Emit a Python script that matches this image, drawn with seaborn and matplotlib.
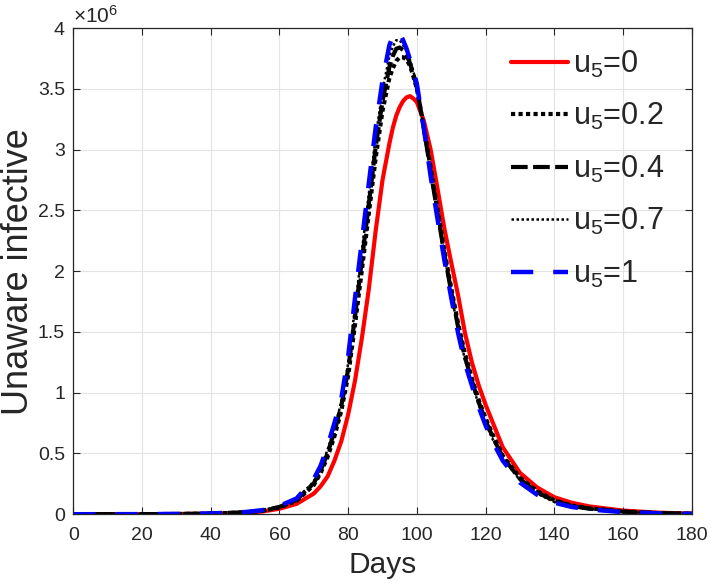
import pandas as pd
import seaborn as sns
import matplotlib.pyplot as plt

# valores (dias e infectados em milhões)
dias = [0, 10, 20, 30, 40, 50, 55, 60, 65, 70, 72, 74, 76, 78, 80, 82, 84, 86, 88, 90, 92, 93, 94, 95, 96,
        97, 98, 99, 100, 102, 104, 106, 108, 110, 112, 114, 116, 118, 120, 122, 125, 130, 135, 140, 145, 150,
        160, 170, 180]

u5_0 = [0, 0.0002, 0.0006, 0.0015, 0.004, 0.012, 0.022, 0.045, 0.085, 0.17, 0.23, 0.31, 0.44, 0.60, 0.82,
        1.10, 1.45, 1.85, 2.33, 2.75, 3.05, 3.18, 3.28, 3.35, 3.40, 3.43, 3.44, 3.42, 3.39, 3.24, 3.00, 2.68,
        2.35, 2.07, 1.80, 1.49, 1.25, 1.06, 0.90, 0.76, 0.55, 0.34, 0.22, 0.14, 0.095, 0.065, 0.03, 0.013, 0.005]
u5_02 = [0, 0.0003, 0.0007, 0.0018, 0.005, 0.015, 0.027, 0.056, 0.11, 0.24, 0.34, 0.47, 0.64, 0.85, 1.14,
         1.56, 2.01, 2.47, 2.93, 3.32, 3.59, 3.67, 3.73, 3.76, 3.76, 3.74, 3.69, 3.60, 3.50, 3.19, 2.85, 2.51,
         2.17, 1.86, 1.57, 1.32, 1.12, 0.94, 0.79, 0.66, 0.48, 0.30, 0.19, 0.115, 0.072, 0.049, 0.023, 0.01, 0.004]
u5_04 = [0, 0.0003, 0.0007, 0.0019, 0.0055, 0.016, 0.029, 0.060, 0.118, 0.255, 0.36, 0.50, 0.68, 0.89, 1.19,
         1.63, 2.09, 2.55, 3.02, 3.40, 3.68, 3.77, 3.83, 3.84, 3.82, 3.78, 3.71, 3.62, 3.51, 3.18, 2.82, 2.48,
         2.14, 1.83, 1.54, 1.29, 1.10, 0.92, 0.77, 0.64, 0.47, 0.29, 0.18, 0.11, 0.068, 0.046, 0.021, 0.009, 0.004]
u5_07 = [0, 0.0003, 0.0008, 0.002, 0.006, 0.017, 0.031, 0.064, 0.125, 0.27, 0.38, 0.53, 0.71, 0.92, 1.24,
         1.70, 2.17, 2.63, 3.10, 3.49, 3.77, 3.85, 3.90, 3.90, 3.86, 3.81, 3.74, 3.64, 3.53, 3.18, 2.80, 2.46,
         2.12, 1.81, 1.52, 1.27, 1.08, 0.90, 0.75, 0.62, 0.46, 0.28, 0.17, 0.10, 0.064, 0.043, 0.019, 0.008, 0.003]
u5_1 = [0, 0.0003, 0.0008, 0.002, 0.006, 0.018, 0.033, 0.068, 0.13, 0.29, 0.40, 0.56, 0.75, 0.95, 1.30,
        1.78, 2.25, 2.72, 3.18, 3.57, 3.86, 3.93, 3.97, 3.96, 3.90, 3.83, 3.74, 3.65, 3.54, 3.18, 2.78, 2.43,
        2.09, 1.78, 1.49, 1.24, 1.06, 0.88, 0.73, 0.60, 0.44, 0.26, 0.16, 0.095, 0.06, 0.04, 0.017, 0.007, 0.003]

rotulos = ["u$_5$=0", "u$_5$=0.2", "u$_5$=0.4", "u$_5$=0.7", "u$_5$=1"]

sns.set_theme(style="ticks")
plt.rcParams["font.family"] = ["Liberation Sans", "DejaVu Sans"]
plt.rcParams["mathtext.default"] = "regular"

cinza = "#262626"
fig = plt.figure(figsize=(7.11, 5.85), dpi=100)
ax = fig.add_axes([0.103, 0.121, 0.870, 0.831])

estilos = [
    dict(color="red", linewidth=3.0, linestyle="-"),
    dict(color="black", linewidth=3.0, linestyle=(0, (1, 0.8))),
    dict(color="black", linewidth=3.0, linestyle=(0, (4, 1.3))),
    dict(color="black", linewidth=1.8, linestyle=(0, (1, 1))),
    dict(color="blue", linewidth=3.2, linestyle=(0, (5, 4.5))),
]
series = [u5_0, u5_02, u5_04, u5_07, u5_1]

for y, rot, est in zip(series, rotulos, estilos):
    df = pd.DataFrame({"dias": dias, "valor": y})
    sns.lineplot(data=df, x="dias", y="valor", ax=ax, label=rot, **est)

ax.set_xlim(0, 180)
ax.set_ylim(0, 4)
ax.set_xticks(range(0, 181, 20))
ax.set_yticks([0, 0.5, 1, 1.5, 2, 2.5, 3, 3.5, 4])
ax.set_yticklabels(["0", "0.5", "1", "1.5", "2", "2.5", "3", "3.5", "4"])
ax.grid(True, color="#e3e3e3", linewidth=0.8)
ax.tick_params(direction="in", top=True, right=True, labelsize=14, colors=cinza, length=5, width=0.8)
ax.tick_params(axis="x", pad=9)
ax.tick_params(axis="y", pad=6)
for s in ax.spines.values():
    s.set_color(cinza)
    s.set_linewidth(0.9)
    s.set_visible(True)
ax.set_xlabel("Days", fontsize=21.5, color=cinza, labelpad=5)
ax.set_ylabel("Unaware infective", fontsize=26, color=cinza, labelpad=1)
ax.text(0.0, 1.003, r"$\times10^{6}$", transform=ax.transAxes, fontsize=15, color=cinza,
        ha="left", va="bottom")

leg = ax.legend(loc="upper left", bbox_to_anchor=(0.708, 0.958), frameon=False, fontsize=22,
                handlelength=1.86, labelspacing=0.7, handletextpad=0.16, borderaxespad=0, borderpad=0)

plt.savefig("out.png", dpi=100)
plt.close()
